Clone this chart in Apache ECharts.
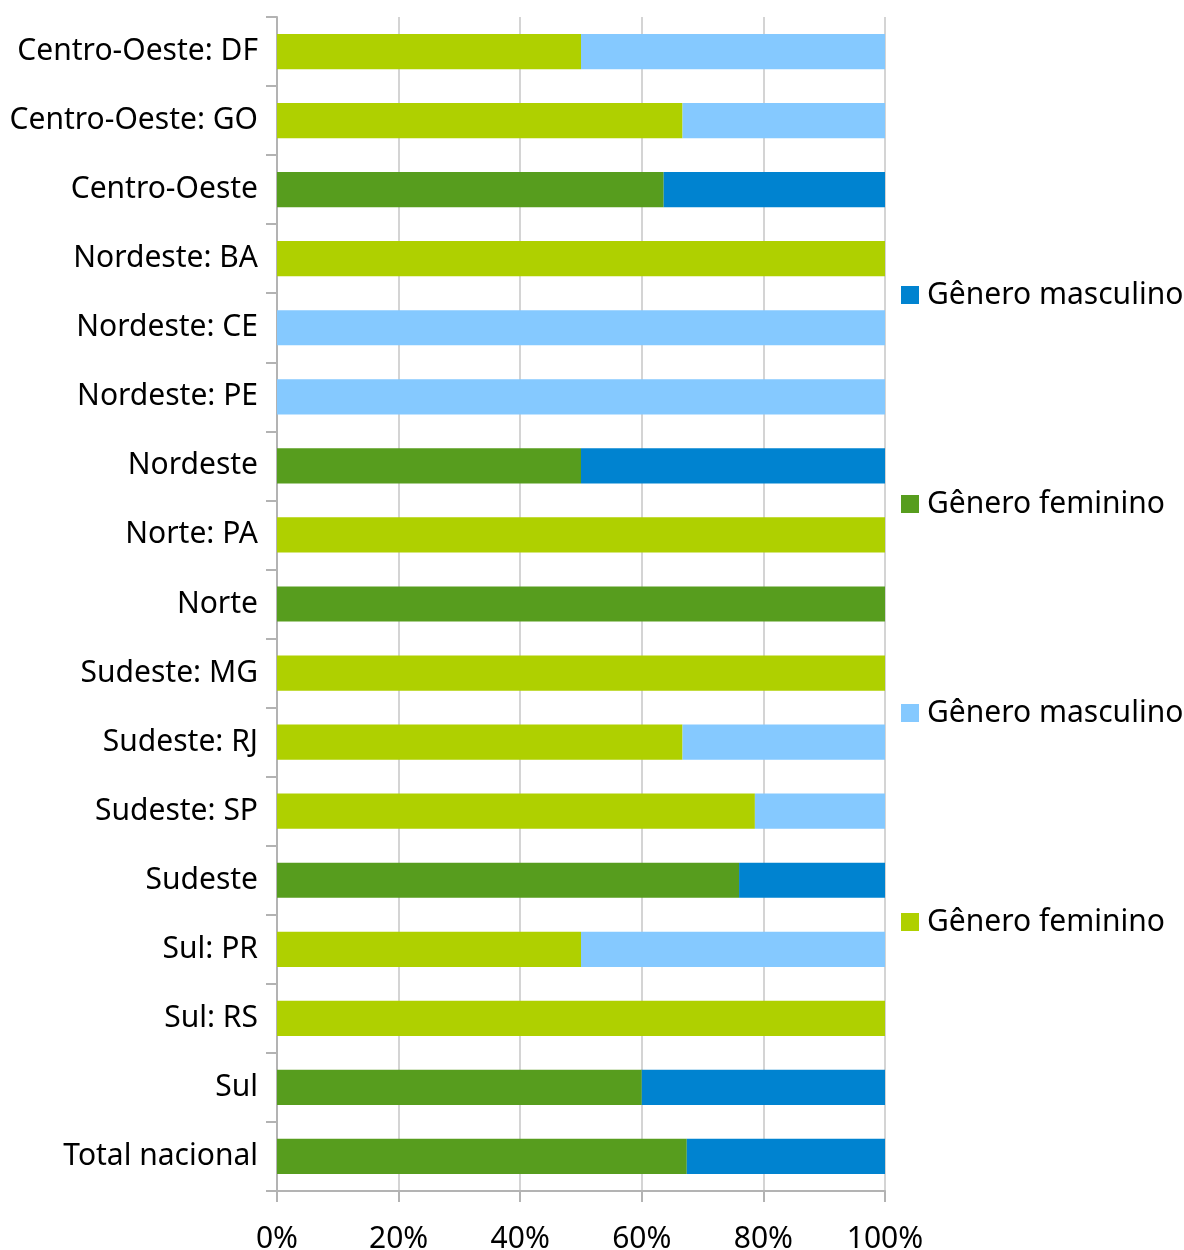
<!DOCTYPE html>
<html>
<head>
<meta charset="utf-8">
<script src="https://cdn.jsdelivr.net/npm/echarts@6/dist/echarts.min.js"></script>
<style>html,body{margin:0;padding:0;background:#fff}#c{width:1184px;height:1250px}</style>
</head>
<body>
<div id="c"></div>
<script>
var categories = ["Centro-Oeste: DF","Centro-Oeste: GO","Centro-Oeste","Nordeste: BA","Nordeste: CE","Nordeste: PE","Nordeste","Norte: PA","Norte","Sudeste: MG","Sudeste: RJ","Sudeste: SP","Sudeste","Sul: PR","Sul: RS","Sul","Total nacional"];
// state-level (light colours)
var femStates  = [50, 66.7, 0, 100, 0, 0, 0, 100, 0, 100, 66.7, 78.6, 0, 50, 100, 0, 0];
var mascStates = [50, 33.3, 0, 0, 100, 100, 0, 0, 0, 0, 33.3, 21.4, 0, 50, 0, 0, 0];
// region-level (dark colours)
var femRegions  = [0, 0, 63.6, 0, 0, 0, 50, 0, 100, 0, 0, 0, 76.0, 0, 0, 60, 67.4];
var mascRegions = [0, 0, 36.4, 0, 0, 0, 50, 0, 0, 0, 0, 0, 24.0, 0, 0, 40, 32.6];
var xTicks = [0, 20, 40, 60, 80, 100];
var legendLabels = {mR: "Gênero masculino", fR: "Gênero feminino", mS: "Gênero masculino", fS: "Gênero feminino"};

var FONT = "Noto Sans";
var chart = echarts.init(document.getElementById('c'), null, {renderer: 'canvas'});
function bar(id, data, color) {
  return {name: id, type: 'bar', stack: 'all', data: data, barCategoryGap: '49%',
          itemStyle: {color: color}, emphasis: {disabled: true}};
}
chart.setOption({
  animation: false,
  textStyle: {fontFamily: FONT},
  grid: {left: 277, right: 299, top: 17, bottom: 59, containLabel: false, outerBoundsMode: 'none'},
  legend: {
    orient: 'vertical', left: 901, top: 280, padding: 0, itemWidth: 18, itemHeight: 18, itemGap: 179,
    icon: 'rect', data: ['mR', 'fR', 'mS', 'fS'],
    formatter: function (n) { return legendLabels[n]; },
    textStyle: {fontSize: 30, color: '#000', fontFamily: FONT, padding: [0, 0, 0, 3]},
    selectedMode: false
  },
  xAxis: {
    type: 'value', min: xTicks[0], max: xTicks[xTicks.length - 1], interval: 20,
    axisLine: {show: true, lineStyle: {color: '#b3b3b3', width: 2}},
    axisTick: {show: true, length: 11, lineStyle: {color: '#b3b3b3', width: 2}},
    splitLine: {show: true, lineStyle: {color: '#d4d4d4', width: 2}},
    axisLabel: {formatter: '{value}%', fontSize: 30, color: '#000', margin: 33, fontFamily: FONT}
  },
  yAxis: {
    type: 'category', data: categories, inverse: true,
    axisLine: {show: true, lineStyle: {color: '#b3b3b3', width: 2}},
    axisTick: {show: true, length: 11, lineStyle: {color: '#b3b3b3', width: 2}},
    axisLabel: {fontSize: 30, color: '#000', margin: 19, fontFamily: FONT, padding: [6, 0, 0, 0]}
  },
  series: [
    bar('fS', femStates, '#afd000'),
    bar('mS', mascStates, '#85c9ff'),
    bar('fR', femRegions, '#579d1e'),
    bar('mR', mascRegions, '#0083d0')
  ]
});
</script>
</body>
</html>
